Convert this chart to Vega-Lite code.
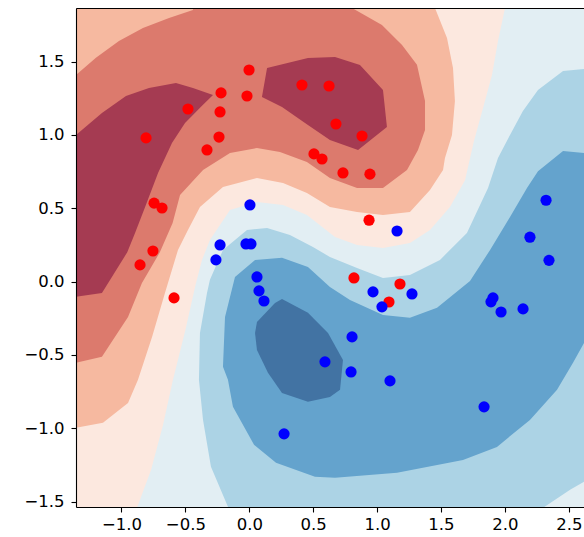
{
  "$schema": "https://vega.github.io/schema/vega-lite/v6.json",
  "autosize": {"type": "none"},
  "padding": {"left": 76, "top": 8, "right": 0, "bottom": 30},
  "width": 508,
  "height": 499,
  "config": {
    "view": {"fill": "#e2eef3", "stroke": null},
    "axis": {"labelFont": "DejaVu Sans", "labelFontSize": 16.5, "labelColor": "black", "tickColor": "black", "domainColor": "black", "tickSize": 5, "tickWidth": 1.1, "domainWidth": 1.1, "grid": false, "labelPadding": 4, "zindex": 1}
  },
  "datasets": {
    "poly": [
      {"r":"R1","i":1,"x":-1.6,"y":2.0},{"r":"R1","i":2,"x":2.01,"y":2.0},{"r":"R1","i":3,"x":2.001,"y":1.866},{"r":"R1","i":4,"x":1.946,"y":1.641},{"r":"R1","i":5,"x":1.899,"y":1.409},{"r":"R1","i":6,"x":1.829,"y":1.184},{"r":"R1","i":7,"x":1.758,"y":0.959},{"r":"R1","i":8,"x":1.688,"y":0.692},{"r":"R1","i":9,"x":1.57,"y":0.509},{"r":"R1","i":10,"x":1.414,"y":0.352},{"r":"R1","i":11,"x":1.257,"y":0.264},{"r":"R1","i":12,"x":1.046,"y":0.23},{"r":"R1","i":13,"x":0.843,"y":0.25},{"r":"R1","i":14,"x":0.671,"y":0.305},{"r":"R1","i":15,"x":0.451,"y":0.455},{"r":"R1","i":16,"x":0.264,"y":0.523},{"r":"R1","i":17,"x":0.06,"y":0.543},{"r":"R1","i":18,"x":-0.151,"y":0.489},{"r":"R1","i":19,"x":-0.308,"y":0.284},{"r":"R1","i":20,"x":-0.37,"y":0.148},{"r":"R1","i":21,"x":-0.42,"y":-0.02},{"r":"R1","i":22,"x":-0.5,"y":-0.33},{"r":"R1","i":23,"x":-0.6,"y":-0.68},{"r":"R1","i":24,"x":-0.675,"y":-0.977},{"r":"R1","i":25,"x":-0.769,"y":-1.284},{"r":"R1","i":26,"x":-0.879,"y":-1.543},{"r":"R1","i":27,"x":-0.9,"y":-1.7},{"r":"R1","i":28,"x":-1.6,"y":-1.7},
      {"r":"R2","i":1,"x":-1.6,"y":2.0},{"r":"R2","i":2,"x":1.46,"y":2.0},{"r":"R2","i":3,"x":1.453,"y":1.866},{"r":"R2","i":4,"x":1.547,"y":1.661},{"r":"R2","i":5,"x":1.594,"y":1.457},{"r":"R2","i":6,"x":1.609,"y":1.232},{"r":"R2","i":7,"x":1.586,"y":1.0},{"r":"R2","i":8,"x":1.531,"y":0.843},{"r":"R2","i":9,"x":1.516,"y":0.761},{"r":"R2","i":10,"x":1.414,"y":0.625},{"r":"R2","i":11,"x":1.257,"y":0.475},{"r":"R2","i":12,"x":1.046,"y":0.455},{"r":"R2","i":13,"x":0.843,"y":0.475},{"r":"R2","i":14,"x":0.631,"y":0.509},{"r":"R2","i":15,"x":0.451,"y":0.605},{"r":"R2","i":16,"x":0.264,"y":0.673},{"r":"R2","i":17,"x":0.06,"y":0.707},{"r":"R2","i":18,"x":-0.206,"y":0.646},{"r":"R2","i":19,"x":-0.386,"y":0.509},{"r":"R2","i":20,"x":-0.48,"y":0.352},{"r":"R2","i":21,"x":-0.558,"y":0.216},{"r":"R2","i":22,"x":-0.66,"y":-0.077},{"r":"R2","i":23,"x":-0.761,"y":-0.377},{"r":"R2","i":24,"x":-0.871,"y":-0.67},{"r":"R2","i":25,"x":-0.949,"y":-0.827},{"r":"R2","i":26,"x":-1.145,"y":-0.963},{"r":"R2","i":27,"x":-1.356,"y":-0.997},{"r":"R2","i":28,"x":-1.6,"y":-1.0},
      {"r":"R3","i":1,"x":-1.6,"y":1.4},{"r":"R3","i":2,"x":-1.356,"y":1.409},{"r":"R3","i":3,"x":-1.2,"y":1.526},{"r":"R3","i":4,"x":-1.02,"y":1.641},{"r":"R3","i":5,"x":-0.832,"y":1.729},{"r":"R3","i":6,"x":-0.628,"y":1.798},{"r":"R3","i":7,"x":-0.441,"y":1.852},{"r":"R3","i":8,"x":-0.42,"y":2.0},{"r":"R3","i":9,"x":0.8,"y":2.0},{"r":"R3","i":10,"x":0.804,"y":1.866},{"r":"R3","i":11,"x":1.038,"y":1.75},{"r":"R3","i":12,"x":1.195,"y":1.614},{"r":"R3","i":13,"x":1.312,"y":1.479},{"r":"R3","i":14,"x":1.375,"y":1.232},{"r":"R3","i":15,"x":1.375,"y":1.034},{"r":"R3","i":16,"x":1.32,"y":0.898},{"r":"R3","i":17,"x":1.234,"y":0.761},{"r":"R3","i":18,"x":1.046,"y":0.639},{"r":"R3","i":19,"x":0.843,"y":0.639},{"r":"R3","i":20,"x":0.631,"y":0.707},{"r":"R3","i":21,"x":0.451,"y":0.816},{"r":"R3","i":22,"x":0.24,"y":0.884},{"r":"R3","i":23,"x":0.06,"y":0.911},{"r":"R3","i":24,"x":-0.151,"y":0.877},{"r":"R3","i":25,"x":-0.362,"y":0.761},{"r":"R3","i":26,"x":-0.542,"y":0.591},{"r":"R3","i":27,"x":-0.6,"y":0.4},{"r":"R3","i":28,"x":-0.7,"y":0.2},{"r":"R3","i":29,"x":-0.84,"y":-0.009},{"r":"R3","i":30,"x":-0.949,"y":-0.241},{"r":"R3","i":31,"x":-1.153,"y":-0.513},{"r":"R3","i":32,"x":-1.356,"y":-0.554},{"r":"R3","i":33,"x":-1.6,"y":-0.56},
      {"r":"R4a","i":1,"x":-1.6,"y":0.99},{"r":"R4a","i":2,"x":-1.356,"y":1.0},{"r":"R4a","i":3,"x":-1.153,"y":1.15},{"r":"R4a","i":4,"x":-0.965,"y":1.266},{"r":"R4a","i":5,"x":-0.785,"y":1.32},{"r":"R4a","i":6,"x":-0.574,"y":1.354},{"r":"R4a","i":7,"x":-0.441,"y":1.32},{"r":"R4a","i":8,"x":-0.284,"y":1.273},{"r":"R4a","i":9,"x":-0.37,"y":1.2},{"r":"R4a","i":10,"x":-0.503,"y":1.082},{"r":"R4a","i":11,"x":-0.605,"y":0.945},{"r":"R4a","i":12,"x":-0.714,"y":0.741},{"r":"R4a","i":13,"x":-0.816,"y":0.508},{"r":"R4a","i":14,"x":-0.894,"y":0.332},{"r":"R4a","i":15,"x":-0.955,"y":0.2},{"r":"R4a","i":16,"x":-1.153,"y":-0.077},{"r":"R4a","i":17,"x":-1.356,"y":-0.104},{"r":"R4a","i":18,"x":-1.6,"y":-0.11},
      {"r":"R4b","i":1,"x":0.139,"y":1.457},{"r":"R4b","i":2,"x":0.459,"y":1.525},{"r":"R4b","i":3,"x":0.671,"y":1.532},{"r":"R4b","i":4,"x":0.866,"y":1.477},{"r":"R4b","i":5,"x":1.046,"y":1.307},{"r":"R4b","i":6,"x":1.077,"y":1.055},{"r":"R4b","i":7,"x":0.851,"y":0.898},{"r":"R4b","i":8,"x":0.631,"y":0.966},{"r":"R4b","i":9,"x":0.436,"y":1.082},{"r":"R4b","i":10,"x":0.256,"y":1.191},{"r":"R4b","i":11,"x":0.099,"y":1.259},
      {"r":"B2","i":1,"x":2.8,"y":1.45},{"r":"B2","i":2,"x":2.619,"y":1.45},{"r":"B2","i":3,"x":2.455,"y":1.436},{"r":"B2","i":4,"x":2.259,"y":1.307},{"r":"B2","i":5,"x":2.141,"y":1.164},{"r":"B2","i":6,"x":2.04,"y":1.0},{"r":"B2","i":7,"x":1.946,"y":0.843},{"r":"B2","i":8,"x":1.868,"y":0.639},{"r":"B2","i":9,"x":1.703,"y":0.332},{"r":"B2","i":10,"x":1.492,"y":0.148},{"r":"B2","i":11,"x":1.257,"y":0.046},{"r":"B2","i":12,"x":1.046,"y":0.025},{"r":"B2","i":13,"x":0.843,"y":0.093},{"r":"B2","i":14,"x":0.631,"y":0.168},{"r":"B2","i":15,"x":0.498,"y":0.236},{"r":"B2","i":16,"x":0.318,"y":0.318},{"r":"B2","i":17,"x":0.139,"y":0.366},{"r":"B2","i":18,"x":-0.018,"y":0.352},{"r":"B2","i":19,"x":-0.206,"y":0.216},{"r":"B2","i":20,"x":-0.308,"y":0.012},{"r":"B2","i":21,"x":-0.331,"y":-0.077},{"r":"B2","i":22,"x":-0.386,"y":-0.35},{"r":"B2","i":23,"x":-0.394,"y":-0.67},{"r":"B2","i":24,"x":-0.362,"y":-0.943},{"r":"B2","i":25,"x":-0.3,"y":-1.263},{"r":"B2","i":26,"x":-0.167,"y":-1.536},{"r":"B2","i":27,"x":-0.16,"y":-1.7},{"r":"B2","i":28,"x":2.3,"y":-1.7},{"r":"B2","i":29,"x":2.298,"y":-1.543},{"r":"B2","i":30,"x":2.51,"y":-1.42},{"r":"B2","i":31,"x":2.619,"y":-1.365},{"r":"B2","i":32,"x":2.8,"y":-1.36},
      {"r":"B3","i":1,"x":2.8,"y":0.88},{"r":"B3","i":2,"x":2.619,"y":0.877},{"r":"B3","i":3,"x":2.455,"y":0.891},{"r":"B3","i":4,"x":2.259,"y":0.753},{"r":"B3","i":5,"x":2.173,"y":0.639},{"r":"B3","i":6,"x":2.04,"y":0.441},{"r":"B3","i":7,"x":1.884,"y":0.216},{"r":"B3","i":8,"x":1.727,"y":0.005},{"r":"B3","i":9,"x":1.469,"y":-0.179},{"r":"B3","i":10,"x":1.257,"y":-0.247},{"r":"B3","i":11,"x":1.046,"y":-0.227},{"r":"B3","i":12,"x":0.788,"y":-0.125},{"r":"B3","i":13,"x":0.631,"y":-0.036},{"r":"B3","i":14,"x":0.459,"y":0.1},{"r":"B3","i":15,"x":0.256,"y":0.162},{"r":"B3","i":16,"x":0.045,"y":0.148},{"r":"B3","i":17,"x":-0.112,"y":0.032},{"r":"B3","i":18,"x":-0.19,"y":-0.241},{"r":"B3","i":19,"x":-0.206,"y":-0.581},{"r":"B3","i":20,"x":-0.167,"y":-0.67},{"r":"B3","i":21,"x":-0.128,"y":-0.854},{"r":"B3","i":22,"x":0.037,"y":-1.113},{"r":"B3","i":23,"x":0.209,"y":-1.236},{"r":"B3","i":24,"x":0.514,"y":-1.331},{"r":"B3","i":25,"x":0.671,"y":-1.338},{"r":"B3","i":26,"x":1.156,"y":-1.304},{"r":"B3","i":27,"x":1.672,"y":-1.216},{"r":"B3","i":28,"x":1.938,"y":-1.127},{"r":"B3","i":29,"x":2.196,"y":-0.943},{"r":"B3","i":30,"x":2.408,"y":-0.738},{"r":"B3","i":31,"x":2.533,"y":-0.554},{"r":"B3","i":32,"x":2.619,"y":-0.418},{"r":"B3","i":33,"x":2.8,"y":-0.38},
      {"r":"B4","i":1,"x":0.06,"y":-0.275},{"r":"B4","i":2,"x":0.201,"y":-0.145},{"r":"B4","i":3,"x":0.256,"y":-0.118},{"r":"B4","i":4,"x":0.459,"y":-0.213},{"r":"B4","i":5,"x":0.616,"y":-0.35},{"r":"B4","i":6,"x":0.733,"y":-0.534},{"r":"B4","i":7,"x":0.71,"y":-0.738},{"r":"B4","i":8,"x":0.631,"y":-0.786},{"r":"B4","i":9,"x":0.459,"y":-0.82},{"r":"B4","i":10,"x":0.256,"y":-0.759},{"r":"B4","i":11,"x":0.146,"y":-0.622},{"r":"B4","i":12,"x":0.06,"y":-0.466},{"r":"B4","i":13,"x":0.045,"y":-0.35}
    ],
    "pts": [
      {"c":"red","x":-0.002,"y":1.443},{"c":"red","x":0.412,"y":1.341},{"c":"red","x":0.624,"y":1.334},{"c":"red","x":-0.221,"y":1.287},{"c":"red","x":-0.018,"y":1.266},{"c":"red","x":-0.48,"y":1.177},{"c":"red","x":-0.229,"y":1.157},{"c":"red","x":0.678,"y":1.075},{"c":"red","x":0.882,"y":0.993},{"c":"red","x":-0.808,"y":0.98},{"c":"red","x":-0.237,"y":0.986},{"c":"red","x":-0.331,"y":0.898},{"c":"red","x":0.506,"y":0.871},{"c":"red","x":0.569,"y":0.836},{"c":"red","x":0.733,"y":0.741},{"c":"red","x":0.944,"y":0.733},{"c":"red","x":-0.745,"y":0.535},{"c":"red","x":-0.683,"y":0.502},{"c":"red","x":0.937,"y":0.419},{"c":"red","x":-0.754,"y":0.209},{"c":"red","x":-0.855,"y":0.114},{"c":"red","x":-0.589,"y":-0.111},{"c":"red","x":0.819,"y":0.025},{"c":"red","x":1.179,"y":-0.016},{"c":"red","x":1.093,"y":-0.139},
      {"c":"blue","x":0.005,"y":0.523},{"c":"blue","x":1.156,"y":0.345},{"c":"blue","x":-0.229,"y":0.25},{"c":"blue","x":-0.026,"y":0.257},{"c":"blue","x":0.013,"y":0.257},{"c":"blue","x":-0.261,"y":0.148},{"c":"blue","x":2.322,"y":0.555},{"c":"blue","x":2.196,"y":0.303},{"c":"blue","x":2.345,"y":0.145},{"c":"blue","x":0.06,"y":0.032},{"c":"blue","x":0.076,"y":-0.063},{"c":"blue","x":0.115,"y":-0.132},{"c":"blue","x":0.968,"y":-0.07},{"c":"blue","x":1.273,"y":-0.084},{"c":"blue","x":1.038,"y":-0.172},{"c":"blue","x":1.907,"y":-0.111},{"c":"blue","x":1.891,"y":-0.138},{"c":"blue","x":1.97,"y":-0.207},{"c":"blue","x":2.142,"y":-0.186},{"c":"blue","x":0.804,"y":-0.377},{"c":"blue","x":0.592,"y":-0.547},{"c":"blue","x":0.796,"y":-0.616},{"c":"blue","x":1.101,"y":-0.677},{"c":"blue","x":1.837,"y":-0.854},{"c":"blue","x":0.272,"y":-1.038}
    ]
  },
  "layer": [
    {
      "data": {"name": "poly"},
      "transform": [{"filter": "datum.r == 'R1'"}],
      "mark": {"type": "line", "interpolate": "linear-closed", "filled": true, "fill": "#fce8df", "strokeWidth": 0, "clip": true},
      "encoding": {
        "x": {"field": "x", "type": "quantitative", "title": null, "scale": {"domain": [-1.356, 2.619], "nice": false, "zero": false}, "axis": {"orient": "bottom", "values": [-1, -0.5, 0, 0.5, 1, 1.5, 2, 2.5], "format": ".1f", "labelFont": "DejaVu Sans", "labelFontSize": 16.5, "labelColor": "black", "tickColor": "black", "domainColor": "black", "tickSize": 5, "tickWidth": 1.1, "domainWidth": 1.1, "grid": false, "labelPadding": 4, "zindex": 1}},
        "y": {"field": "y", "type": "quantitative", "title": null, "scale": {"domain": [-1.537, 1.866], "nice": false, "zero": false}, "axis": {"values": [-1.5, -1, -0.5, 0, 0.5, 1, 1.5], "format": ".1f", "labelFont": "DejaVu Sans", "labelFontSize": 16.5, "labelColor": "black", "tickColor": "black", "domainColor": "black", "tickSize": 5, "tickWidth": 1.1, "domainWidth": 1.1, "grid": false, "labelPadding": 7, "zindex": 1}},
        "order": {"field": "i", "type": "quantitative"}
      }
    },
    {
      "data": {"name": "poly"},
      "transform": [{"filter": "datum.r == 'R2'"}],
      "mark": {"type": "line", "interpolate": "linear-closed", "filled": true, "fill": "#f6b9a0", "strokeWidth": 0, "clip": true},
      "encoding": {
        "x": {"field": "x", "type": "quantitative", "title": null, "axis": null},
        "y": {"field": "y", "type": "quantitative", "title": null},
        "order": {"field": "i", "type": "quantitative"}
      }
    },
    {
      "data": {"name": "poly"},
      "transform": [{"filter": "datum.r == 'R3'"}],
      "mark": {"type": "line", "interpolate": "linear-closed", "filled": true, "fill": "#dc7a6d", "strokeWidth": 0, "clip": true},
      "encoding": {
        "x": {"field": "x", "type": "quantitative", "title": null, "axis": null},
        "y": {"field": "y", "type": "quantitative", "title": null},
        "order": {"field": "i", "type": "quantitative"}
      }
    },
    {
      "data": {"name": "poly"},
      "transform": [{"filter": "datum.r == 'R4a' || datum.r == 'R4b'"}],
      "mark": {"type": "line", "interpolate": "linear-closed", "filled": true, "fill": "#a53b52", "strokeWidth": 0, "clip": true},
      "encoding": {
        "x": {"field": "x", "type": "quantitative", "title": null, "axis": null},
        "y": {"field": "y", "type": "quantitative", "title": null},
        "detail": {"field": "r", "type": "nominal"},
        "order": {"field": "i", "type": "quantitative"}
      }
    },
    {
      "data": {"name": "poly"},
      "transform": [{"filter": "datum.r == 'B2'"}],
      "mark": {"type": "line", "interpolate": "linear-closed", "filled": true, "fill": "#acd3e5", "strokeWidth": 0, "clip": true},
      "encoding": {
        "x": {"field": "x", "type": "quantitative", "title": null, "axis": null},
        "y": {"field": "y", "type": "quantitative", "title": null},
        "order": {"field": "i", "type": "quantitative"}
      }
    },
    {
      "data": {"name": "poly"},
      "transform": [{"filter": "datum.r == 'B3'"}],
      "mark": {"type": "line", "interpolate": "linear-closed", "filled": true, "fill": "#64a3cd", "strokeWidth": 0, "clip": true},
      "encoding": {
        "x": {"field": "x", "type": "quantitative", "title": null, "axis": null},
        "y": {"field": "y", "type": "quantitative", "title": null},
        "order": {"field": "i", "type": "quantitative"}
      }
    },
    {
      "data": {"name": "poly"},
      "transform": [{"filter": "datum.r == 'B4'"}],
      "mark": {"type": "line", "interpolate": "linear-closed", "filled": true, "fill": "#4273a3", "strokeWidth": 0, "clip": true},
      "encoding": {
        "x": {"field": "x", "type": "quantitative", "title": null, "axis": null},
        "y": {"field": "y", "type": "quantitative", "title": null},
        "order": {"field": "i", "type": "quantitative"}
      }
    },
    {
      "data": {"name": "pts"},
      "mark": {"type": "circle", "size": 125, "opacity": 1, "clip": true},
      "encoding": {
        "x": {"field": "x", "type": "quantitative", "title": null, "axis": {"orient": "top", "labels": false, "ticks": false, "domain": true, "domainColor": "black", "domainWidth": 1.1, "grid": false, "zindex": 1}},
        "y": {"field": "y", "type": "quantitative", "title": null},
        "color": {"field": "c", "type": "nominal", "scale": {"domain": ["red", "blue"], "range": ["#ff0000", "#0000ff"]}, "legend": null}
      }
    }
  ],
  "resolve": {"axis": {"x": "independent"}}
}
